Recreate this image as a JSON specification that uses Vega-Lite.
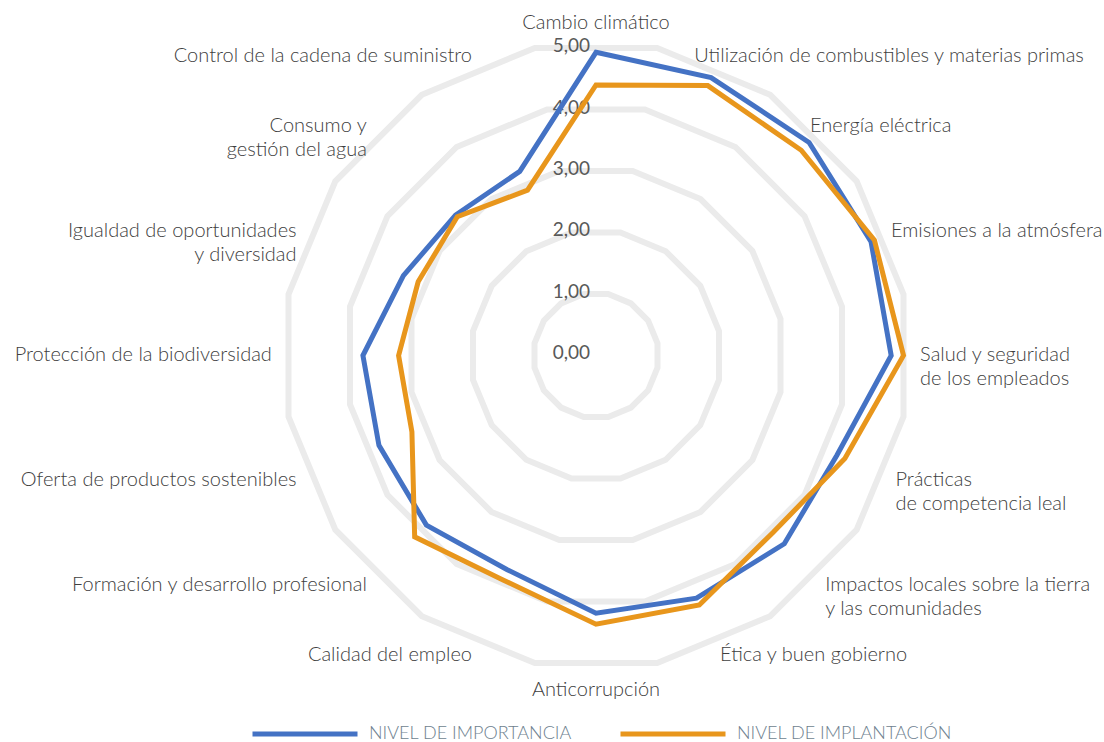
{
  "$schema": "https://vega.github.io/schema/vega-lite/v6.json",
  "width": 1104,
  "height": 742,
  "autosize": "none",
  "padding": 0,
  "background": "white",
  "config": {
    "view": {"stroke": null},
    "text": {"font": "Lato"}
  },
  "datasets": {
    "temas": [
      {"orden": 0, "tema": "Cambio climático", "importancia": 4.93, "implantacion": 4.40},
      {"orden": 1, "tema": "Utilización de combustibles y materias primas", "importancia": 4.89, "implantacion": 4.75},
      {"orden": 2, "tema": "Energía eléctrica", "importancia": 4.90, "implantacion": 4.72},
      {"orden": 3, "tema": "Emisiones a la atmósfera", "importancia": 4.84, "implantacion": 4.90},
      {"orden": 4, "tema": "Salud y seguridad\nde los empleados", "importancia": 4.80, "implantacion": 5.00},
      {"orden": 5, "tema": "Prácticas\nde competencia leal", "importancia": 4.24, "implantacion": 4.38},
      {"orden": 6, "tema": "Impactos locales sobre la tierra\ny las comunidades", "importancia": 4.33, "implantacion": 4.07},
      {"orden": 7, "tema": "Ética y buen gobierno", "importancia": 4.27, "implantacion": 4.39},
      {"orden": 8, "tema": "Anticorrupción", "importancia": 4.19, "implantacion": 4.37},
      {"orden": 9, "tema": "Calidad del empleo", "importancia": 3.77, "implantacion": 3.95},
      {"orden": 10, "tema": "Formación y desarrollo profesional", "importancia": 3.90, "implantacion": 4.17},
      {"orden": 11, "tema": "Oferta de productos sostenibles", "importancia": 3.82, "implantacion": 3.24},
      {"orden": 12, "tema": "Protección de la biodiversidad", "importancia": 3.79, "implantacion": 3.21},
      {"orden": 13, "tema": "Igualdad de oportunidades\ny diversidad", "importancia": 3.39, "implantacion": 3.13},
      {"orden": 14, "tema": "Consumo y\ngestión del agua", "importancia": 3.23, "implantacion": 3.19},
      {"orden": 15, "tema": "Control de la cadena de suministro", "importancia": 3.24, "implantacion": 2.91}
    ],
    "escala": [
      {"nivel": 0}, {"nivel": 1}, {"nivel": 2}, {"nivel": 3}, {"nivel": 4}, {"nivel": 5}
    ]
  },
  "layer": [
    {
      "description": "Anillos de la cuadrícula: polígonos de 16 lados con el lado plano arriba",
      "data": {"name": "escala"},
      "transform": [{"filter": "datum.nivel > 0"}],
      "mark": {
        "type": "point",
        "shape": "M0.19509,-0.98079L0.55557,-0.83147L0.83147,-0.55557L0.98079,-0.19509L0.98079,0.19509L0.83147,0.55557L0.55557,0.83147L0.19509,0.98079L-0.19509,0.98079L-0.55557,0.83147L-0.83147,0.55557L-0.98079,0.19509L-0.98079,-0.19509L-0.83147,-0.55557L-0.55557,-0.83147L-0.19509,-0.98079Z",
        "filled": false,
        "stroke": "#ebebeb",
        "strokeWidth": 6,
        "opacity": 1
      },
      "encoding": {
        "x": {"datum": 0, "type": "quantitative", "scale": {"domain": [-9.6911, 8.2602], "nice": false, "zero": false}, "axis": null},
        "y": {"datum": 0, "type": "quantitative", "scale": {"domain": [-6.2846, 5.7805], "nice": false, "zero": false}, "axis": null},
        "size": {
          "field": "nivel",
          "type": "quantitative",
          "scale": {"type": "pow", "exponent": 2, "domain": [0, 5], "range": [0, 393200]},
          "legend": null
        }
      }
    },
    {
      "description": "Etiquetas del eje radial",
      "data": {"name": "escala"},
      "transform": [
        {"calculate": "replace(format(datum.nivel, '.2f'), '.', ',')", "as": "rotulo"}
      ],
      "mark": {"type": "text", "align": "right", "baseline": "middle", "dx": -6, "dy": -2, "fontSize": 19, "color": "#595959"},
      "encoding": {
        "x": {"datum": 0, "type": "quantitative"},
        "y": {"field": "nivel", "type": "quantitative"},
        "text": {"field": "rotulo"}
      }
    },
    {
      "description": "Serie azul",
      "data": {"name": "temas"},
      "transform": [
        {"fold": ["importancia", "implantacion"], "as": ["serie", "valor"]},
        {"filter": "datum.serie === 'importancia'"},
        {"calculate": "datum.orden * PI / 8", "as": "angulo"},
        {"calculate": "datum.valor * sin(datum.angulo)", "as": "px"},
        {"calculate": "datum.valor * cos(datum.angulo)", "as": "py"}
      ],
      "mark": {"type": "line", "interpolate": "linear-closed", "strokeWidth": 5, "strokeJoin": "miter"},
      "encoding": {
        "x": {"field": "px", "type": "quantitative"},
        "y": {"field": "py", "type": "quantitative"},
        "order": {"field": "orden"},
        "color": {
          "field": "serie",
          "type": "nominal",
          "scale": {"domain": ["importancia", "implantacion"], "range": ["#4472c4", "#e8961c"]},
          "legend": {
            "title": null,
            "orient": "none",
            "direction": "horizontal",
            "legendX": 250,
            "legendY": 679,
            "symbolType": "stroke",
            "symbolSize": 11025,
            "symbolStrokeWidth": 5,
            "labelOffset": 9,
            "columnPadding": 38,
            "labelFont": "Lato",
            "labelFontWeight": 300,
            "labelFontSize": 18,
            "labelColor": "#6e7f8f",
            "labelLimit": 400,
            "labelExpr": "datum.value === 'importancia' ? 'NIVEL DE IMPORTANCIA' : 'NIVEL DE IMPLANTACIÓN'"
          }
        }
      }
    },
    {
      "description": "Serie naranja",
      "data": {"name": "temas"},
      "transform": [
        {"fold": ["importancia", "implantacion"], "as": ["serie", "valor"]},
        {"filter": "datum.serie === 'implantacion'"},
        {"calculate": "datum.orden * PI / 8", "as": "angulo"},
        {"calculate": "datum.valor * sin(datum.angulo)", "as": "px"},
        {"calculate": "datum.valor * cos(datum.angulo)", "as": "py"}
      ],
      "mark": {"type": "line", "interpolate": "linear-closed", "strokeWidth": 5, "strokeJoin": "miter"},
      "encoding": {
        "x": {"field": "px", "type": "quantitative"},
        "y": {"field": "py", "type": "quantitative"},
        "order": {"field": "orden"},
        "color": {"field": "serie", "type": "nominal"}
      }
    },
    {
      "description": "Rótulos de la derecha; los de la mitad superior se corren un poco hacia el centro",
      "data": {"name": "temas"},
      "transform": [
        {"calculate": "datum.orden * PI / 8", "as": "angulo"},
        {"filter": "sin(datum.angulo) > 0.01"},
        {"calculate": "5.27 * sin(datum.angulo) - 0.49 * pow(max(0, cos(datum.angulo)), 2)", "as": "lx"},
        {"calculate": "5.27 * cos(datum.angulo)", "as": "ly"}
      ],
      "mark": {"type": "text", "align": "left", "baseline": "alphabetic", "dy": 6, "fontSize": 20, "fontWeight": 300, "lineHeight": 24, "lineBreak": "\n", "color": "#404040"},
      "encoding": {
        "x": {"field": "lx", "type": "quantitative"},
        "y": {"field": "ly", "type": "quantitative"},
        "text": {"field": "tema"}
      }
    },
    {
      "description": "Rótulos de la izquierda",
      "data": {"name": "temas"},
      "transform": [
        {"calculate": "datum.orden * PI / 8", "as": "angulo"},
        {"filter": "sin(datum.angulo) < -0.01"},
        {"calculate": "5.27 * sin(datum.angulo)", "as": "lx"},
        {"calculate": "5.27 * cos(datum.angulo)", "as": "ly"}
      ],
      "mark": {"type": "text", "align": "right", "baseline": "alphabetic", "dy": 6, "fontSize": 20, "fontWeight": 300, "lineHeight": 24, "lineBreak": "\n", "color": "#404040"},
      "encoding": {
        "x": {"field": "lx", "type": "quantitative"},
        "y": {"field": "ly", "type": "quantitative"},
        "text": {"field": "tema"}
      }
    },
    {
      "description": "Rótulos arriba y abajo",
      "data": {"name": "temas"},
      "transform": [
        {"calculate": "datum.orden * PI / 8", "as": "angulo"},
        {"filter": "abs(sin(datum.angulo)) <= 0.01"},
        {"calculate": "5.415 * sin(datum.angulo)", "as": "lx"},
        {"calculate": "5.415 * cos(datum.angulo)", "as": "ly"}
      ],
      "mark": {"type": "text", "align": "center", "baseline": "middle", "dy": 1, "fontSize": 20, "fontWeight": 300, "color": "#404040"},
      "encoding": {
        "x": {"field": "lx", "type": "quantitative"},
        "y": {"field": "ly", "type": "quantitative"},
        "text": {"field": "tema"}
      }
    }
  ]
}
